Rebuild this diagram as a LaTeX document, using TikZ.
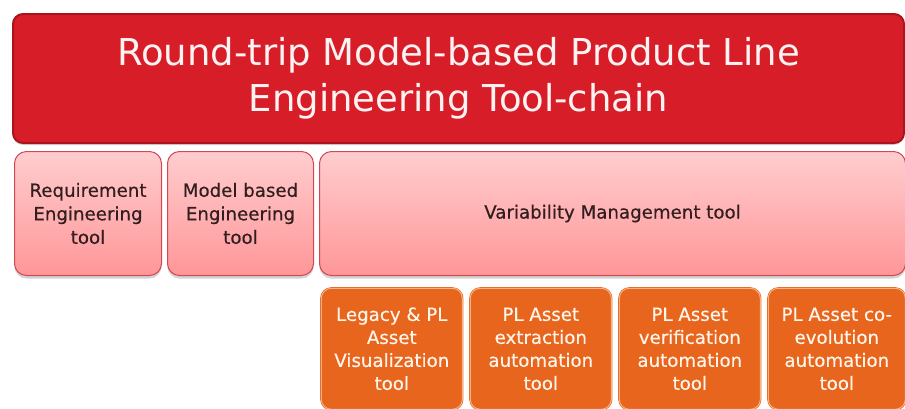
\documentclass[tikz,border=0pt]{standalone}
\usepackage{fontspec}
\setmainfont{DejaVu Sans}
\newfontfamily\boxfont{DejaVu Sans}[FakeBold=0.4]
\usetikzlibrary{shadows}

\definecolor{chainred}{RGB}{215,30,40}
\definecolor{chainedge}{RGB}{170,20,28}
\definecolor{pinktop}{RGB}{255,205,207}
\definecolor{pinkbottom}{RGB}{255,150,152}
\definecolor{pinkedge}{RGB}{210,72,82}
\definecolor{toolorange}{RGB}{232,101,30}
\definecolor{orangeedge}{RGB}{245,178,130}
\definecolor{darktext}{RGB}{50,30,30}

\tikzset{
  chainbox/.style={draw=chainedge, line width=2pt, fill=chainred, rounded corners=10pt,
    anchor=north west, inner sep=0pt, align=center, text=white!95!red,
    font=\fontsize{37}{46}\selectfont,
    drop shadow={opacity=0.3, shadow xshift=0pt, shadow yshift=-2pt}},
  toolbox/.style={draw=pinkedge, line width=1pt, top color=pinktop, bottom color=pinkbottom,
    rounded corners=12pt, anchor=north west, inner sep=0pt, align=center, text=darktext,
    font=\boxfont\fontsize{18.2}{23.5}\selectfont,
    drop shadow={opacity=0.35, shadow xshift=0pt, shadow yshift=-3pt}},
  autobox/.style={draw=toolorange, line width=0.6pt, double=orangeedge, double distance=1pt,
    fill=toolorange, rounded corners=10pt, anchor=north west, inner sep=0pt, align=center,
    text=white!92!orange, font=\boxfont\fontsize{18.2}{23}\selectfont,
    drop shadow={opacity=0.15, shadow xshift=0pt, shadow yshift=-2pt}}
}

\begin{document}
\begin{tikzpicture}[x=1pt,y=-1pt]
  \useasboundingbox (0,0) rectangle (905,408);

  % tool-chain header
  \node[chainbox, minimum width=891pt, minimum height=129pt] (chain) at (12,13)
    {Round-trip Model-based Product Line\\Engineering Tool-chain};

  % first level tools
  \node[toolbox, minimum width=147pt, minimum height=124pt] (req) at (14,151)
    {Requirement\\Engineering\\tool};
  \node[toolbox, minimum width=146pt, minimum height=124pt] (mbe) at (167,151)
    {Model based\\Engineering\\tool};
  \node[toolbox, minimum width=586pt, minimum height=124pt] (vm) at (319,151)
    {Variability Management tool};

  % automation tools
  \node[autobox, minimum width=141pt, minimum height=121pt] (vis) at (321,288)
    {Legacy \& PL\\Asset\\Visualization\\tool};
  \node[autobox, minimum width=141pt, minimum height=121pt] (extr) at (470,288)
    {PL Asset\\extraction\\automation\\tool};
  \node[autobox, minimum width=141pt, minimum height=121pt] (verif) at (619,288)
    {PL Asset\\verification\\automation\\tool};
  \node[autobox, minimum width=137pt, minimum height=121pt] (coevo) at (768,288)
    {PL Asset co-\\evolution\\automation\\tool};
\end{tikzpicture}
\end{document}
